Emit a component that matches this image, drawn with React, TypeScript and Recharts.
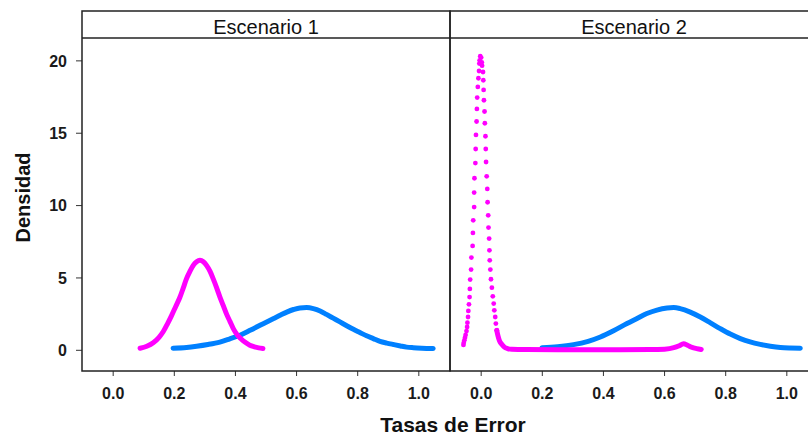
import { ComposedChart, Line, Scatter, XAxis, YAxis } from "recharts";

// densidades: [tasa de error, densidad]
const esc1Azul: [number, number][] = [
  [0.196, 0.15], [0.24, 0.2], [0.273, 0.28], [0.31, 0.4], [0.349, 0.57], [0.38, 0.78],
  [0.415, 1.04], [0.45, 1.4], [0.491, 1.84], [0.525, 2.2], [0.546, 2.42], [0.568, 2.64],
  [0.59, 2.82], [0.611, 2.93], [0.633, 2.95], [0.655, 2.88], [0.677, 2.72], [0.698, 2.48],
  [0.72, 2.22], [0.742, 1.96], [0.764, 1.7], [0.786, 1.45], [0.807, 1.23], [0.829, 1.0],
  [0.851, 0.81], [0.873, 0.62], [0.895, 0.5], [0.917, 0.4], [0.94, 0.3], [0.96, 0.22],
  [0.982, 0.18], [1.01, 0.15], [1.047, 0.13],
];

const esc1Magenta: [number, number][] = [
  [0.088, 0.14], [0.11, 0.28], [0.131, 0.52], [0.15, 0.9], [0.164, 1.3], [0.178, 1.85],
  [0.191, 2.4], [0.205, 3.05], [0.218, 3.65], [0.23, 4.35], [0.24, 4.95], [0.251, 5.45],
  [0.262, 5.87], [0.273, 6.12], [0.284, 6.22], [0.295, 6.12], [0.306, 5.85], [0.317, 5.45],
  [0.327, 4.95], [0.338, 4.35], [0.349, 3.7], [0.36, 3.1], [0.371, 2.5], [0.382, 2.0],
  [0.393, 1.5], [0.405, 1.1], [0.418, 0.8], [0.432, 0.55], [0.447, 0.35], [0.462, 0.24],
  [0.476, 0.17], [0.49, 0.13],
];

const esc2Azul: [number, number][] = [
  [0.199, 0.18], [0.25, 0.25], [0.302, 0.39], [0.35, 0.62], [0.39, 0.92], [0.433, 1.35],
  [0.477, 1.85], [0.51, 2.2], [0.542, 2.54], [0.575, 2.78], [0.608, 2.92], [0.63, 2.95],
  [0.651, 2.88], [0.684, 2.64], [0.717, 2.3], [0.75, 1.9], [0.782, 1.5], [0.815, 1.12],
  [0.848, 0.81], [0.88, 0.58], [0.913, 0.41], [0.946, 0.28], [0.979, 0.19], [1.01, 0.16],
  [1.044, 0.15],
];

// pico del escenario 2 (puntos sueltos)
const esc2Pico: [number, number][] = [
  [-0.058, 0.37], [-0.057, 0.52], [-0.055, 0.69], [-0.053, 0.87], [-0.051, 1.06],
  [-0.048, 1.33], [-0.046, 1.61], [-0.045, 1.91], [-0.043, 2.3], [-0.042, 2.72],
  [-0.04, 3.18], [-0.038, 3.68], [-0.037, 4.24], [-0.036, 4.89], [-0.033, 5.58],
  [-0.032, 6.41], [-0.028, 7.21], [-0.027, 8.11], [-0.026, 8.98], [-0.023, 9.9],
  [-0.023, 10.9], [-0.022, 11.89], [-0.019, 12.94], [-0.018, 13.91], [-0.017, 14.88],
  [-0.015, 15.81], [-0.014, 16.68], [-0.013, 17.46], [-0.011, 18.2], [-0.009, 18.8],
  [-0.007, 19.3], [-0.006, 19.81], [-0.005, 20.04], [-0.003, 20.32],
  [0.0, 20.23], [0.002, 19.9], [0.003, 19.67], [0.006, 19.23], [0.007, 18.66],
  [0.008, 17.99], [0.009, 17.28], [0.011, 16.5], [0.012, 15.69], [0.014, 14.79],
  [0.015, 13.91], [0.016, 13.01], [0.018, 12.02], [0.02, 11.15], [0.021, 10.23],
  [0.023, 9.33], [0.024, 8.48], [0.026, 7.72], [0.027, 6.91], [0.028, 6.22],
  [0.03, 5.58], [0.032, 4.91], [0.035, 4.33], [0.038, 3.73], [0.041, 3.23],
  [0.043, 2.76], [0.046, 2.3], [0.048, 1.85], [0.051, 1.38],
];

const esc2Cola: [number, number][] = [
  [0.051, 1.38], [0.055, 1.0], [0.06, 0.65], [0.068, 0.4], [0.076, 0.22], [0.086, 0.12],
  [0.1, 0.07], [0.15, 0.05], [0.25, 0.04], [0.35, 0.04], [0.45, 0.04], [0.55, 0.05],
  [0.6, 0.08], [0.63, 0.18], [0.648, 0.32], [0.662, 0.46], [0.675, 0.35], [0.69, 0.2],
  [0.705, 0.12], [0.72, 0.06],
];

const ticksX = [0, 0.2, 0.4, 0.6, 0.8, 1.0];
const ticksY = [0, 5, 10, 15, 20];

const AZUL = "#0080ff";
const MAGENTA = "#ff00ff";
const FUENTE = "'Liberation Sans', Arial, sans-serif";

const toPts = (arr: [number, number][]) => arr.map(([x, y]) => ({ x, y }));

const tickStyle = { fill: "#1a1a1a", fontSize: 16, fontWeight: 700, fontFamily: FUENTE };

function Panel({ left, width, showY, children }: { left: number; width: number; showY: boolean; children: React.ReactNode }) {
  return (
    <div style={{ position: "absolute", left, top: 0 }}>
      <ComposedChart width={width} height={437} margin={{ top: 38, right: 0, bottom: 0, left: 0 }}>
        <XAxis
          type="number"
          dataKey="x"
          domain={[-0.102, 1.102]}
          ticks={ticksX}
          allowDataOverflow
          height={66}
          tickSize={5}
          tickMargin={12}
          axisLine={false}
          tickLine={{ stroke: "#333" }}
          tick={tickStyle}
          tickFormatter={(v: number) => v.toFixed(1)}
        />
        <YAxis
          type="number"
          dataKey="y"
          domain={[-1.43, 21.58]}
          ticks={ticksY}
          allowDataOverflow
          hide={!showY}
          width={82}
          tickSize={6}
          tickMargin={9}
          axisLine={false}
          tickLine={{ stroke: "#333" }}
          tick={tickStyle}
        />
        {children}
      </ComposedChart>
    </div>
  );
}

const linea = (data: [number, number][], color: string) => (
  <Line
    data={toPts(data)}
    dataKey="y"
    type="monotone"
    stroke={color}
    strokeWidth={5}
    strokeLinecap="round"
    dot={false}
    activeDot={false}
    isAnimationActive={false}
  />
);

export default function App() {
  return (
    <div style={{ position: "absolute", left: 0, top: 0, width: 808, height: 437, overflow: "hidden", background: "#fff" }}>
      <Panel left={0} width={450} showY>
        {linea(esc1Azul, AZUL)}
        {linea(esc1Magenta, MAGENTA)}
      </Panel>
      <Panel left={450} width={368} showY={false}>
        {linea(esc2Azul, AZUL)}
        {linea(esc2Cola, MAGENTA)}
        <Scatter
          data={toPts(esc2Pico)}
          dataKey="y"
          isAnimationActive={false}
          shape={(p: any) => <circle cx={p.cx} cy={p.cy} r={2.4} fill={MAGENTA} />}
        />
      </Panel>
      <svg width={808} height={437} style={{ position: "absolute", left: 0, top: 0, pointerEvents: "none" }}>
        <g fill="none" stroke="#222" strokeWidth={1.5}>
          <rect x={82} y={11} width={368} height={360} />
          <rect x={450} y={11} width={368} height={360} />
          <line x1={82} y1={38} x2={818} y2={38} />
        </g>
        <g fontFamily={FUENTE} fill="#111">
          <text x={266} y={34} fontSize={20} textAnchor="middle">Escenario 1</text>
          <text x={634} y={34} fontSize={20} textAnchor="middle">Escenario 2</text>
          <text x={453} y={432} fontSize={21} fontWeight={700} textAnchor="middle">Tasas de Error</text>
          <text x={30} y={197.5} fontSize={20} fontWeight={700} textAnchor="middle" transform="rotate(-90, 30, 197.5)">
            Densidad
          </text>
        </g>
      </svg>
    </div>
  );
}
